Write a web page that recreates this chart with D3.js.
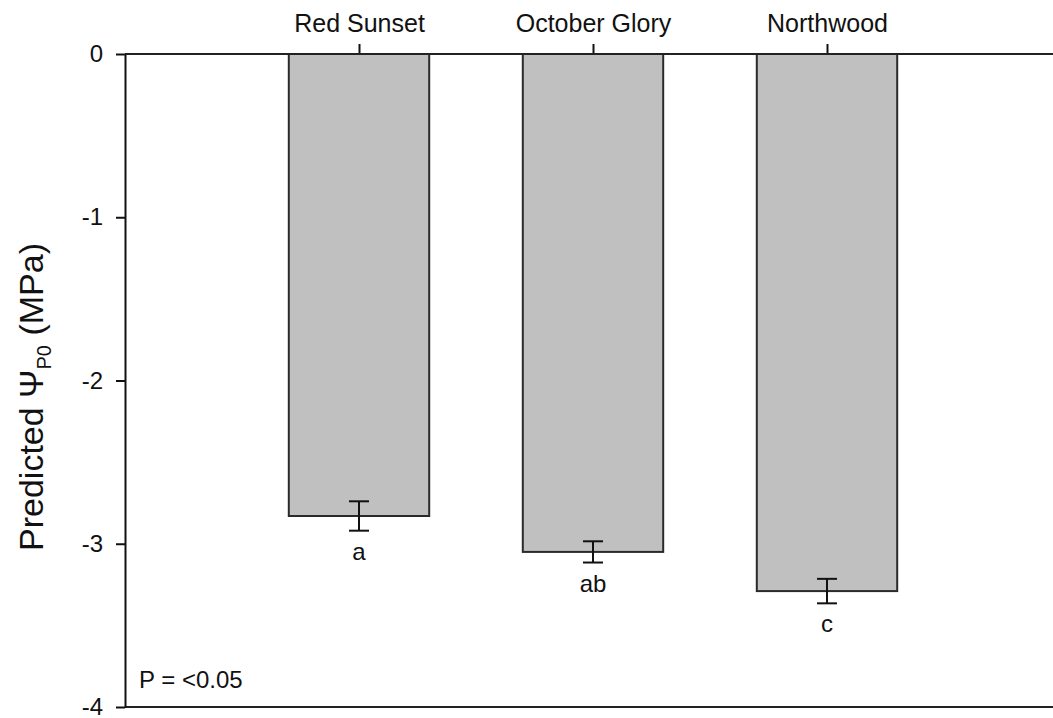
<!DOCTYPE html>
<html>
<head>
<meta charset="utf-8">
<script src="https://cdn.jsdelivr.net/npm/d3@7"></script>
<style>
  body { margin: 0; background: #fff; }
  svg { display: block; font-family: "Liberation Sans", Arial, sans-serif; }
</style>
</head>
<body>
<div id="chart"></div>
<script>
// cultivars and their predicted turgor loss point
const categories = ["Red Sunset", "October Glory", "Northwood"];
const means = [-2.83, -3.05, -3.29];
const errors = [0.09, 0.065, 0.075];
const letters = ["a", "ab", "c"];
const yTicks = [0, -1, -2, -3, -4];
const pNote = "P = <0.05";

const width = 1053, height = 718;
const margin = {top: 54, right: 0, bottom: 11, left: 125};

const svg = d3.select("#chart").append("svg")
    .attr("width", width)
    .attr("height", height);

// x : one slot per cultivar, with an empty slot on each side
const x = d3.scalePoint()
    .domain(categories)
    .range([margin.left, margin.left + 936])
    .padding(1);
const barW = x.step() * 0.6;

const y = d3.scaleLinear()
    .domain([0, -4])
    .range([margin.top, height - margin.bottom]);

// bars hang down from zero
svg.append("g")
  .selectAll("rect")
  .data(categories)
  .join("rect")
    .attr("x", d => x(d) - barW / 2)
    .attr("y", y(0))
    .attr("width", barW)
    .attr("height", (d, i) => y(means[i]) - y(0))
    .attr("fill", "#c0c0c0")
    .attr("stroke", "#2a2a2a")
    .attr("stroke-width", 2);

// error bars
const eb = svg.append("g").attr("stroke", "#111").attr("stroke-width", 2);
categories.forEach((c, i) => {
    const cx = x(c);
    const y1 = y(means[i] + errors[i]), y2 = y(means[i] - errors[i]);
    eb.append("line").attr("x1", cx).attr("x2", cx).attr("y1", y1).attr("y2", y2);
    eb.append("line").attr("x1", cx - 10).attr("x2", cx + 10).attr("y1", y1).attr("y2", y1);
    eb.append("line").attr("x1", cx - 10).attr("x2", cx + 10).attr("y1", y2).attr("y2", y2);
});

// significance letters
svg.append("g")
  .selectAll("text")
  .data(categories)
  .join("text")
    .attr("x", d => x(d))
    .attr("y", (d, i) => y(means[i] - errors[i]) + 29)
    .attr("text-anchor", "middle")
    .attr("font-size", 24)
    .attr("fill", "#111")
    .text((d, i) => letters[i]);

// top axis with cultivar names
const topAxis = svg.append("g")
    .attr("transform", `translate(0,${y(0)})`)
    .call(d3.axisTop(x).tickSize(10).tickSizeOuter(0).tickPadding(12));
topAxis.select(".domain").remove();
topAxis.selectAll("line").attr("stroke", "#111").attr("stroke-width", 2);
topAxis.selectAll("text").attr("font-size", 25).attr("fill", "#111")
    .attr("font-family", "Liberation Sans, Arial, sans-serif");

// horizontal lines at 0 and -4 run across the full width
[0, -4].forEach(v => {
    svg.append("line")
        .attr("x1", margin.left).attr("x2", width)
        .attr("y1", y(v)).attr("y2", y(v))
        .attr("stroke", "#222").attr("stroke-width", 2);
});

// left axis
const leftAxis = svg.append("g")
    .attr("transform", `translate(${margin.left},0)`)
    .call(d3.axisLeft(y).tickValues(yTicks).tickFormat(d => String(d)).tickSize(9).tickSizeOuter(0).tickPadding(13));
leftAxis.select(".domain").attr("stroke", "#111").attr("stroke-width", 2);
leftAxis.selectAll("line").attr("stroke", "#111").attr("stroke-width", 2);
leftAxis.selectAll("text").attr("font-size", 24).attr("fill", "#111")
    .attr("font-family", "Liberation Sans, Arial, sans-serif");

// y title with subscript
const title = svg.append("text")
    .attr("transform", `translate(43,397) rotate(-90)`)
    .attr("text-anchor", "middle")
    .attr("font-size", 34)
    .attr("fill", "#111");
title.append("tspan").text("Predicted \u03A8");
title.append("tspan").attr("font-size", 20).attr("dy", 8).text("P0");
title.append("tspan").attr("dy", -8).text(" (MPa)");

svg.append("text")
    .attr("x", 139)
    .attr("y", 688)
    .attr("font-size", 24)
    .attr("fill", "#111")
    .text(pNote);
</script>
</body>
</html>
